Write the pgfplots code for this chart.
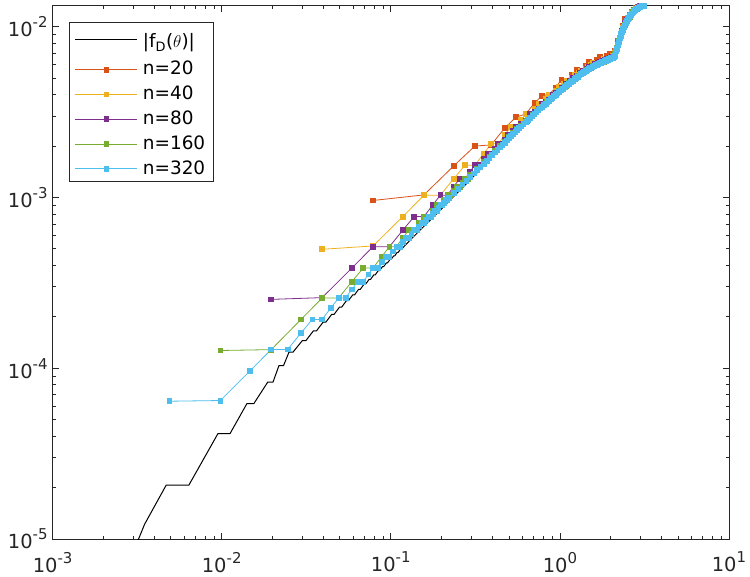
\documentclass[border=0pt]{standalone}
\usepackage{fontspec}
\setmainfont{DejaVu Sans}
\usepackage{pgfplots}
\pgfplotsset{compat=1.18}
\usetikzlibrary{calc}
\definecolor{c1}{rgb}{0.85,0.325,0.098}
\definecolor{c2}{rgb}{0.929,0.694,0.125}
\definecolor{c3}{rgb}{0.494,0.184,0.556}
\definecolor{c4}{rgb}{0.466,0.674,0.188}
\definecolor{c5}{rgb}{0.301,0.745,0.933}
\definecolor{axc}{rgb}{0.15,0.15,0.15}
\newcommand{\tp}[1]{10\raisebox{9bp}{\fontsize{15}{15}\selectfont #1}}
\begin{document}
\begin{tikzpicture}
\begin{axis}[
 scale only axis, width=676.4bp, height=533.5bp,
 xmode=log, ymode=log,
 xmin=1e-3, xmax=10, ymin=1e-5, ymax=1.33e-2,
 axis line style={axc, line width=0.8bp},
 every tick/.style={axc, line width=0.8bp},
 major tick length=6.5bp, minor tick length=3.3bp,
 tick align=inside,
 xtick={1e-3,1e-2,1e-1,1,10},
 xticklabels={\tp{-3},\tp{-2},\tp{-1},\tp{0},\tp{1}},
 minor xtick={0.002,0.003,0.004,0.005,0.006,0.007,0.008,0.009,0.02,0.03,0.04,0.05,0.06,0.07,0.08,0.09,0.2,0.3,0.4,0.5,0.6,0.7,0.8,0.9,2,3,4,5,6,7,8,9},
 ytick={1e-5,1e-4,1e-3,1e-2},
 yticklabels={\tp{-5},\tp{-4},\tp{-3},\tp{-2}},
 minor ytick={2e-5,3e-5,4e-5,5e-5,6e-5,7e-5,8e-5,9e-5,2e-4,3e-4,4e-4,5e-4,6e-4,7e-4,8e-4,9e-4,2e-3,3e-3,4e-3,5e-3,6e-3,7e-3,8e-3,9e-3},
 ticklabel style={font=\fontsize{19.5}{22}\selectfont, text=axc},
 xticklabel style={yshift=-9.5bp},
 yticklabel style={xshift=-1.5bp},
 legend style={at={(0.0247,0.9696)}, anchor=north west, draw=axc, line width=0.8bp,
   font=\fontsize{18.5}{22}\selectfont, cells={anchor=west},
   inner xsep=5.2bp, inner ysep=4bp, row sep=8.3bp, column sep=2bp,
   nodes={inner xsep=3bp, inner ysep=0bp, text height=13.5bp, text depth=3bp}},
 legend image code/.code={\draw[mark repeat=2,mark phase=2,#1] plot coordinates {(0bp,0bp) (31bp,0bp) (62bp,0bp)};},
 every axis plot/.append style={line width=0.8bp},
 mark size=2.4bp,
]
\addplot[black, line width=1bp, mark=none] coordinates {
(0.0025,5.4e-6) (0.0035,1.22e-5) (0.0047,2.07e-5) (0.0064,2.07e-5) (0.0095,4.14e-5) (0.0112,4.14e-5) (0.0141,6.21e-5) (0.0155,6.21e-5) (0.0187,8.28e-5) (0.0201,8.28e-5) (0.0218,1.035e-4) (0.0232,1.035e-4) (0.0250,1.242e-4) (0.0264,1.242e-4) (0.02994,1.449e-4) (0.03144,1.449e-4) (0.03488,1.656e-4) (0.03638,1.656e-4) (0.03982,1.863e-4) (0.04132,1.863e-4) (0.04476,2.07e-4) (0.04626,2.07e-4) (0.0497,2.277e-4) (0.0512,2.277e-4) (0.05464,2.484e-4) (0.05614,2.484e-4) (0.05958,2.691e-4) (0.06108,2.691e-4) (0.06452,2.898e-4) (0.06602,2.898e-4) (0.06946,3.105e-4) (0.07096,3.105e-4) (0.0744,3.312e-4) (0.0759,3.312e-4) (0.07934,3.519e-4) (0.08084,3.519e-4) (0.08428,3.726e-4) (0.08578,3.726e-4) (0.08922,3.933e-4) (0.09072,3.933e-4) (0.09416,4.14e-4) (0.09566,4.14e-4) (0.0991,4.347e-4) (0.1006,4.347e-4) (0.10404,4.554e-4) (0.10554,4.554e-4) (0.10898,4.761e-4) (0.11048,4.761e-4) (0.11392,4.968e-4) (0.11542,4.968e-4) (0.13,5.62e-4) (0.2,8.6e-4) (0.3,1.29e-3) (0.45,1.95e-3) (0.6,2.6e-3) (0.8,3.4e-3) (1.0,4.15e-3) (1.2,4.82e-3) (1.4,5.4e-3) (1.6,5.85e-3) (1.8,6.17e-3) (2.0,6.47e-3) (2.094,6.55e-3) (2.2,7.68e-3) (2.3,8.93e-3) (2.4,1.008e-2) (2.5,1.083e-2) (2.7,1.203e-2) (2.9,1.283e-2) (3.1,1.324e-2) (3.1416,1.328e-2)
};
\addlegendentry[text height=21.5bp, text depth=5.5bp]{|f\textsubscript{D}($\theta$)|}
\addplot[c1, mark=square*, mark options={solid, fill=c1, draw=c1}] coordinates {
(0.07854,9.6e-4) (0.15708,1.035e-3) (0.23562,1.53e-3) (0.31416,2.0e-3) (0.3927,2.03e-3) (0.47124,2.55e-3) (0.54978,2.95e-3) (0.62832,3.08e-3) (0.70686,3.565e-3) (0.7854,3.95e-3) (0.86394,4.0e-3) (0.94248,4.4e-3) (1.02102,4.9e-3) (1.09956,4.83e-3) (1.1781,5.25e-3) (1.25664,5.58e-3) (1.33518,5.55e-3) (1.41372,5.91e-3) (1.49226,6.24e-3) (1.5708,6.11e-3) (1.64934,6.38e-3) (1.72788,6.63e-3) (1.80642,6.48e-3) (1.88496,6.72e-3) (1.9635,6.96e-3) (2.04204,6.79e-3) (2.12058,7.22e-3) (2.19911,8.25e-3) (2.27765,8.98e-3) (2.35619,1.01e-2) (2.43473,1.106e-2) (2.51327,1.127e-2) (2.59181,1.175e-2) (2.67035,1.223e-2) (2.74889,1.25e-2) (2.82743,1.285e-2) (2.90597,1.306e-2) (2.98451,1.319e-2) (3.06305,1.327e-2) (3.14159,1.33e-2)
};
\addlegendentry{n=20}
\addplot[c2, mark=square*, mark options={solid, fill=c2, draw=c2}] coordinates {
(0.03927,4.97e-4) (0.07854,5.2e-4) (0.11781,7.73e-4) (0.15708,1.03e-3) (0.19635,1.03e-3) (0.23562,1.2875e-3) (0.27489,1.545e-3) (0.31416,1.545e-3) (0.35343,1.8025e-3) (0.3927,2.06e-3) (0.43197,2.06e-3) (0.47124,2.3175e-3) (0.51051,2.575e-3) (0.54978,2.575e-3) (0.58905,2.8325e-3) (0.62832,3.08e-3) (0.66759,3.068e-3) (0.70686,3.311e-3) (0.74613,3.549e-3) (0.7854,3.533e-3) (0.82467,3.766e-3) (0.86394,3.996e-3) (0.90321,3.98e-3) (0.94248,4.207e-3) (0.98175,4.431e-3) (1.02102,4.408e-3) (1.06029,4.619e-3) (1.09956,4.831e-3) (1.13883,4.8e-3) (1.1781,5.007e-3) (1.21737,5.212e-3) (1.25664,5.172e-3) (1.29591,5.366e-3) (1.33518,5.55e-3) (1.37445,5.506e-3) (1.41372,5.684e-3) (1.45299,5.851e-3) (1.49226,5.791e-3) (1.53153,5.951e-3) (1.5708,6.107e-3) (1.64934,6.168e-3) (1.72788,6.218e-3) (1.80642,6.477e-3) (1.88496,6.518e-3) (1.9635,6.575e-3) (2.04204,6.786e-3) (2.08131,6.688e-3) (2.12058,7.031e-3) (2.19911,7.838e-3) (2.27765,8.98e-3) (2.35619,9.861e-3) (2.43473,1.056e-2) (2.51327,1.12e-2) (2.59181,1.163e-2) (2.67035,1.205e-2) (2.74889,1.239e-2) (2.82743,1.269e-2) (2.90597,1.293e-2) (2.98451,1.31e-2) (3.06305,1.323e-2) (3.14159,1.33e-2)
};
\addlegendentry{n=40}
\addplot[c3, mark=square*, mark options={solid, fill=c3, draw=c3}] coordinates {
(0.019635,2.53e-4) (0.03927,2.59e-4) (0.058905,3.8625e-4) (0.07854,5.15e-4) (0.098175,5.15e-4) (0.11781,6.4375e-4) (0.137445,7.725e-4) (0.15708,7.725e-4) (0.176715,9.0125e-4) (0.19635,1.03e-3) (0.215985,1.03e-3) (0.23562,1.15875e-3) (0.255255,1.2875e-3) (0.27489,1.2875e-3) (0.294525,1.41625e-3) (0.31416,1.545e-3) (0.333795,1.545e-3) (0.35343,1.67375e-3) (0.373065,1.8025e-3) (0.3927,1.8025e-3) (0.412335,1.93125e-3) (0.43197,2.06e-3) (0.451605,2.06e-3) (0.47124,2.18875e-3) (0.490875,2.3175e-3) (0.51051,2.3175e-3) (0.530145,2.44625e-3) (0.54978,2.575e-3) (0.569415,2.575e-3) (0.58905,2.70375e-3) (0.62832,2.824e-3) (0.66759,3.068e-3) (0.70686,3.183e-3) (0.74613,3.296e-3) (0.7854,3.533e-3) (0.82467,3.64e-3) (0.86394,3.747e-3) (0.90321,3.98e-3) (0.94248,4.083e-3) (0.98175,4.185e-3) (1.02102,4.408e-3) (1.07992,4.604e-3) (1.13883,4.8e-3) (1.19773,4.991e-3) (1.25664,5.172e-3) (1.31554,5.342e-3) (1.37445,5.506e-3) (1.43335,5.652e-3) (1.49226,5.791e-3) (1.55116,5.917e-3) (1.61007,6.035e-3) (1.66897,6.131e-3) (1.72788,6.219e-3) (1.78678,6.306e-3) (1.84569,6.394e-3) (1.90459,6.484e-3) (1.9635,6.575e-3) (2.0224,6.642e-3) (2.08131,6.688e-3) (2.10094,6.706e-3) (2.14021,7.176e-3) (2.17948,7.57e-3) (2.21875,8.018e-3) (2.25802,8.593e-3) (2.29729,9.028e-3) (2.33656,9.473e-3) (2.37583,1.0e-2) (2.43473,1.055e-2) (2.49364,1.098e-2) (2.55254,1.13e-2) (2.63108,1.175e-2) (2.70962,1.22e-2) (2.78816,1.252e-2) (2.8667,1.278e-2) (2.94524,1.3e-2) (3.02378,1.317e-2) (3.10232,1.327e-2) (3.14159,1.33e-2)
};
\addlegendentry{n=80}
\addplot[c4, mark=square*, mark options={solid, fill=c4, draw=c4}] coordinates {
(0.0098175,1.27e-4) (0.019635,1.285e-4) (0.0294525,1.93125e-4) (0.03927,2.575e-4) (0.0490875,2.575e-4) (0.058905,3.21875e-4) (0.0687225,3.8625e-4) (0.07854,3.8625e-4) (0.0883575,4.50625e-4) (0.098175,5.15e-4) (0.1079925,5.15e-4) (0.11781,5.79375e-4) (0.1276275,6.4375e-4) (0.137445,6.4375e-4) (0.1472625,7.08125e-4) (0.15708,7.725e-4) (0.1668975,7.725e-4) (0.176715,8.36875e-4) (0.1865325,9.0125e-4) (0.19635,9.0125e-4) (0.2061675,9.65625e-4) (0.215985,1.03e-3) (0.2258025,1.03e-3) (0.23562,1.094375e-3) (0.2454375,1.15875e-3) (0.255255,1.15875e-3) (0.2650725,1.223125e-3) (0.27489,1.2875e-3) (0.2847075,1.2875e-3) (0.294525,1.351875e-3) (0.3239775,1.480625e-3) (0.35343,1.609375e-3) (0.3828825,1.738125e-3) (0.412335,1.866875e-3) (0.4417875,1.995625e-3) (0.47124,2.124375e-3) (0.5006925,2.253e-3) (0.530145,2.382e-3) (0.5595975,2.5106e-3) (0.58905,2.639e-3) (0.6381375,2.821e-3) (0.687225,3.062e-3) (0.7363125,3.237e-3) (0.7854,3.407e-3) (0.8344875,3.637e-3) (0.883575,3.801e-3) (0.9326625,3.963e-3) (0.98175,4.185e-3) (1.0308375,4.338e-3) (1.079925,4.483e-3) (1.1290125,4.69e-3) (1.1781,4.829e-3) (1.2271875,4.964e-3) (1.276275,5.15e-3) (1.3253625,5.272e-3) (1.37445,5.392e-3) (1.4235375,5.558e-3) (1.472625,5.65e-3) (1.5217125,5.744e-3) (1.5708,5.889e-3) (1.6198875,5.959e-3) (1.668975,6.025e-3) (1.7180625,6.13e-3) (1.76715,6.193e-3) (1.8162375,6.25e-3) (1.865325,6.361e-3) (1.9144125,6.418e-3) (1.9635,6.478e-3) (2.0125875,6.574e-3) (2.061675,6.599e-3) (2.0911275,6.619e-3) (2.12058,6.889e-3) (2.15003,7.199e-3) (2.17948,7.53e-3) (2.20893,7.87e-3) (2.23838,8.25e-3) (2.26783,8.62e-3) (2.29729,8.97e-3) (2.32674,9.33e-3) (2.35619,9.67e-3) (2.38564,1.001e-2) (2.41509,1.028e-2) (2.44454,1.052e-2) (2.48381,1.08e-2) (2.5329,1.11e-2) (2.59181,1.145e-2) (2.65072,1.18e-2) (2.70962,1.214e-2) (2.78816,1.248e-2) (2.8667,1.276e-2) (2.94524,1.298e-2) (3.02378,1.315e-2) (3.10232,1.327e-2) (3.14159,1.33e-2)
};
\addlegendentry{n=160}
\addplot[c5, mark=square*, mark options={solid, fill=c5, draw=c5}] coordinates {
(0.0049087,6.41e-5) (0.0098175,6.47e-5) (0.0147262,9.657e-5) (0.019635,1.2876e-4) (0.0245437,1.2876e-4) (0.0294524,1.6095e-4) (0.0343612,1.9314e-4) (0.0392699,1.9314e-4) (0.0441786,2.2533e-4) (0.0490874,2.5752e-4) (0.0539961,2.5752e-4) (0.0589049,2.8971e-4) (0.0638136,3.219e-4) (0.0687223,3.219e-4) (0.0736311,3.5409e-4) (0.0785398,3.8628e-4) (0.0834486,3.8628e-4) (0.0883573,4.1847e-4) (0.093266,4.5066e-4) (0.0981748,4.5066e-4) (0.1030835,4.8285e-4) (0.1079922,5.1504e-4) (0.112901,5.1504e-4) (0.1178097,5.4723e-4) (0.1227185,5.7942e-4) (0.1276272,5.7942e-4) (0.1325359,6.1161e-4) (0.1374447,6.438e-4) (0.1423534,6.438e-4) (0.1472622,6.7599e-4) (0.1521709,7.0818e-4) (0.1570796,7.0818e-4) (0.1619884,7.4037e-4) (0.1668971,7.7256e-4) (0.1718058,7.7256e-4) (0.1767146,8.0475e-4) (0.1816233,8.3694e-4) (0.1865321,8.3694e-4) (0.1914408,8.6913e-4) (0.1963495,9.0132e-4) (0.2012583,9.0132e-4) (0.206167,9.3351e-4) (0.2110757,9.657e-4) (0.2159845,9.657e-4) (0.2208932,9.9789e-4)
(0.23562,1.06227e-3) (0.25034,1.12665e-3) (0.26507,1.19103e-3) (0.2798,1.25541e-3) (0.29452,1.31979e-3) (0.30925,1.38417e-3) (0.32398,1.44855e-3) (0.3387,1.51293e-3) (0.35343,1.57731e-3) (0.36816,1.64169e-3) (0.38288,1.70607e-3) (0.39761,1.77045e-3) (0.41233,1.83483e-3) (0.42706,1.89921e-3) (0.44179,1.96359e-3) (0.45651,2.02797e-3) (0.47124,2.09235e-3) (0.48597,2.15673e-3) (0.50069,2.22111e-3) (0.51542,2.28549e-3) (0.53014,2.34987e-3) (0.54487,2.41425e-3) (0.5596,2.47863e-3) (0.57432,2.54301e-3) (0.58905,2.60739e-3)
(0.60868,2.689e-3) (0.62831,2.77e-3) (0.64795,2.849e-3) (0.66758,2.929e-3) (0.68722,3.008e-3) (0.70685,3.087e-3) (0.72649,3.166e-3) (0.74612,3.242e-3) (0.76576,3.318e-3) (0.7854,3.396e-3) (0.80503,3.471e-3) (0.82467,3.546e-3) (0.8443,3.622e-3) (0.86394,3.694e-3) (0.88357,3.77e-3) (0.90321,3.845e-3) (0.92284,3.916e-3) (0.94248,3.99e-3) (0.96211,4.062e-3) (0.98175,4.133e-3) (1.01119,4.239e-3) (1.04064,4.341e-3) (1.0701,4.441e-3) (1.09955,4.539e-3) (1.129,4.64e-3) (1.15845,4.737e-3) (1.18791,4.833e-3) (1.21736,4.926e-3) (1.24681,5.015e-3) (1.27626,5.102e-3) (1.30572,5.19e-3) (1.33517,5.272e-3) (1.36462,5.356e-3) (1.39407,5.436e-3) (1.42353,5.513e-3) (1.45298,5.582e-3) (1.48243,5.649e-3) (1.51188,5.716e-3) (1.54133,5.781e-3) (1.5708,5.846e-3) (1.60024,5.906e-3) (1.62969,5.955e-3) (1.65914,6.003e-3) (1.6886,6.048e-3) (1.71805,6.091e-3) (1.7475,6.142e-3) (1.77695,6.188e-3) (1.8064,6.237e-3) (1.83586,6.279e-3) (1.86531,6.325e-3) (1.89476,6.368e-3) (1.92421,6.414e-3) (1.95367,6.458e-3) (1.98312,6.501e-3) (2.01257,6.54e-3) (2.04202,6.564e-3) (2.07147,6.586e-3) (2.09111,6.602e-3) (2.11074,6.775e-3) (2.13038,6.979e-3) (2.15001,7.182e-3) (2.16965,7.398e-3) (2.18928,7.614e-3) (2.20892,7.848e-3) (2.22855,8.103e-3) (2.24818,8.359e-3) (2.26782,8.596e-3) (2.28745,8.832e-3) (2.30709,9.067e-3) (2.32672,9.302e-3) (2.34636,9.539e-3) (2.36599,9.758e-3) (2.38563,9.974e-3) (2.40526,1.017e-2) (2.44453,1.049e-2) (2.4838,1.077e-2) (2.52307,1.102e-2) (2.56234,1.126e-2) (2.60161,1.149e-2) (2.64088,1.173e-2) (2.68015,1.196e-2) (2.71942,1.217e-2) (2.75869,1.235e-2) (2.79796,1.252e-2) (2.83723,1.266e-2) (2.8765,1.28e-2) (2.91577,1.292e-2) (2.95504,1.302e-2) (2.99431,1.311e-2) (3.03358,1.318e-2) (3.07285,1.324e-2) (3.11212,1.329e-2) (3.14159,1.33e-2)
};
\addlegendentry{n=320}
\end{axis}
\pgfresetboundingbox
\path[use as bounding box] ($(current axis.south west)+(-52.6bp,-38bp)$) rectangle ($(current axis.north east)+(21bp,5.5bp)$);
\end{tikzpicture}
\end{document}
